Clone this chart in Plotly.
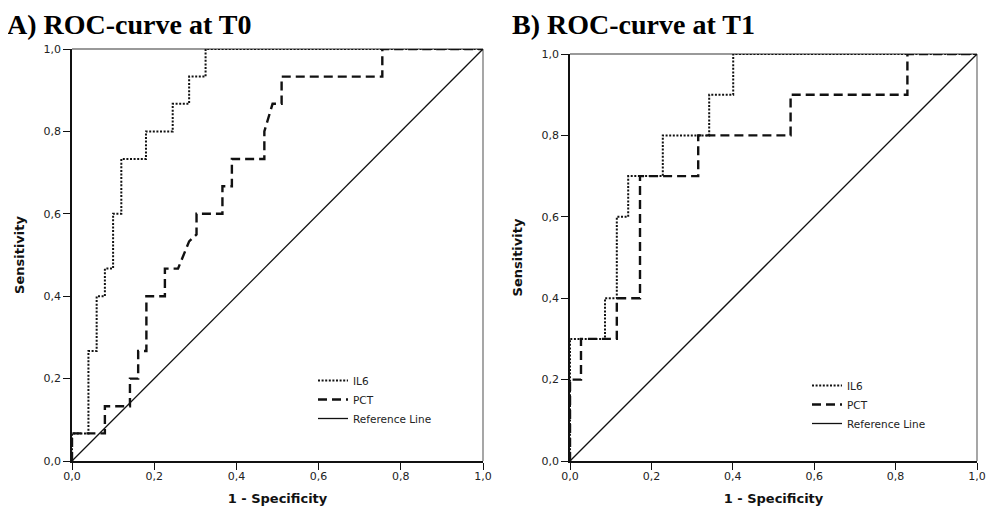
import plotly.graph_objects as go

# ---- data ----
t0_il6_fpr = [0, 0, 0.04, 0.04, 0.06, 0.06, 0.08, 0.08, 0.10, 0.10, 0.12, 0.12, 0.18, 0.18, 0.245, 0.245, 0.285, 0.285, 0.325, 0.325, 1.0]
t0_il6_tpr = [0, 0.067, 0.067, 0.267, 0.267, 0.4, 0.4, 0.467, 0.467, 0.6, 0.6, 0.733, 0.733, 0.8, 0.8, 0.867, 0.867, 0.933, 0.933, 1.0, 1.0]

t0_pct_fpr = [0, 0, 0.08, 0.08, 0.141, 0.141, 0.161, 0.161, 0.181, 0.181, 0.226, 0.226, 0.258, 0.285, 0.303, 0.303, 0.366, 0.366, 0.389, 0.389, 0.468, 0.468, 0.488, 0.51, 0.51, 0.755, 0.755, 1.0]
t0_pct_tpr = [0, 0.067, 0.067, 0.133, 0.133, 0.2, 0.2, 0.267, 0.267, 0.4, 0.4, 0.467, 0.467, 0.533, 0.55, 0.6, 0.6, 0.667, 0.667, 0.733, 0.733, 0.8, 0.867, 0.867, 0.933, 0.933, 1.0, 1.0]

t1_il6_fpr = [0, 0, 0.086, 0.086, 0.115, 0.115, 0.143, 0.143, 0.228, 0.228, 0.342, 0.342, 0.401, 0.401, 1.0]
t1_il6_tpr = [0, 0.3, 0.3, 0.4, 0.4, 0.6, 0.6, 0.7, 0.7, 0.8, 0.8, 0.9, 0.9, 1.0, 1.0]

t1_pct_fpr = [0, 0, 0.027, 0.027, 0.115, 0.115, 0.172, 0.172, 0.315, 0.315, 0.542, 0.542, 0.829, 0.829, 1.0]
t1_pct_tpr = [0, 0.2, 0.2, 0.3, 0.3, 0.4, 0.4, 0.7, 0.7, 0.8, 0.8, 0.9, 0.9, 1.0, 1.0]

ref_x = [0, 1]
ref_y = [0, 1]

tick_vals = [0, 0.2, 0.4, 0.6, 0.8, 1.0]
tick_text = ["0,0", "0,2", "0,4", "0,6", "0,8", "1,0"]
series_names = ["IL6", "PCT", "Reference Line"]
panel_titles = ["A) ROC-curve at T0", "B) ROC-curve at T1"]

# The page body has an 8px margin, so the figure is slightly smaller than the window
OFF = 8
W, H = 998 - OFF, 515 - OFF
TICK_FONT = dict(family="DejaVu Sans", size=11, color="#222")
TITLE_FONT = dict(family="DejaVu Sans", size=13, color="#111")
LEGEND_FONT = dict(family="DejaVu Sans", size=10.5, color="#222")

dot_style = dict(color="#111", width=2, dash="2px,1.6px")
dash_style = dict(color="#111", width=2.4, dash="9px,5px")
ref_style = dict(color="#111", width=1.3)

fig = go.Figure()

panels = [
    ("x", "y", "legend", t0_il6_fpr, t0_il6_tpr, t0_pct_fpr, t0_pct_tpr),
    ("x2", "y2", "legend2", t1_il6_fpr, t1_il6_tpr, t1_pct_fpr, t1_pct_tpr),
]
for xa, ya, lg, ix, iy, px, py in panels:
    fig.add_trace(go.Scatter(x=ix, y=iy, mode="lines", name=series_names[0], line=dot_style,
                             xaxis=xa, yaxis=ya, legend=lg, cliponaxis=False))
    fig.add_trace(go.Scatter(x=px, y=py, mode="lines", name=series_names[1], line=dash_style,
                             xaxis=xa, yaxis=ya, legend=lg, cliponaxis=False))
    fig.add_trace(go.Scatter(x=ref_x, y=ref_y, mode="lines", name=series_names[2], line=ref_style,
                             xaxis=xa, yaxis=ya, legend=lg, cliponaxis=False))

def px2x(p):
    return (p - OFF) / W

def px2y(p):
    return 1 - (p - OFF) / H

dom_x1 = [px2x(72), px2x(483)]
dom_y1 = [px2y(461), px2y(49)]
dom_x2 = [px2x(570), px2x(977)]
dom_y2 = [px2y(461), px2y(54)]

axis_common = dict(
    range=[0, 1], tickvals=tick_vals, ticktext=tick_text, showgrid=False, zeroline=False,
    showline=True, linecolor="#111", linewidth=1.5, ticks="outside", ticklen=7,
    tickwidth=1.3, tickcolor="#111", tickfont=TICK_FONT, fixedrange=True, automargin=False,
)
xtitle = dict(text="<b>1 - Specificity</b>", font=TITLE_FONT, standoff=12)
ytitle = dict(text="<b>Sensitivity</b>", font=TITLE_FONT, standoff=16)

fig.update_layout(
    template="none",
    width=W, height=H,
    margin=dict(l=0, r=0, t=0, b=0, autoexpand=False),
    paper_bgcolor="white", plot_bgcolor="white",
    xaxis=dict(domain=dom_x1, anchor="y", title=xtitle, ticklabelstandoff=-3, **axis_common),
    yaxis=dict(domain=dom_y1, anchor="x", title=ytitle, **axis_common),
    xaxis2=dict(domain=dom_x2, anchor="y2", title=xtitle, ticklabelstandoff=-3, **axis_common),
    yaxis2=dict(domain=dom_y2, anchor="x2", title=ytitle, **axis_common),
    legend=dict(x=px2x(313), y=px2y(366), xanchor="left", yanchor="top",
                font=LEGEND_FONT, bgcolor="rgba(0,0,0,0)", tracegroupgap=0, itemwidth=30),
    legend2=dict(x=px2x(807), y=px2y(371), xanchor="left", yanchor="top",
                 font=LEGEND_FONT, bgcolor="rgba(0,0,0,0)", tracegroupgap=0, itemwidth=30),
    showlegend=True,
)

# Frame lines on top and right of each plot area
for xr, yr in [("x domain", "y domain"), ("x2 domain", "y2 domain")]:
    fig.add_shape(type="line", xref=xr, yref=yr, x0=0, x1=1, y0=1, y1=1,
                  line=dict(color="#777", width=1.3), layer="below")
    fig.add_shape(type="line", xref=xr, yref=yr, x0=1, x1=1, y0=0, y1=1,
                  line=dict(color="#777", width=1.3), layer="below")

# Panel titles
TITLE_STYLE = dict(family="Liberation Serif", size=28, color="#000")
fig.add_annotation(text="<b>" + panel_titles[0] + "</b>", xref="paper", yref="paper",
                   x=px2x(6), y=1, xanchor="left", yanchor="top", showarrow=False,
                   borderpad=0, font=TITLE_STYLE)
fig.add_annotation(text="<b>" + panel_titles[1] + "</b>", xref="paper", yref="paper",
                   x=px2x(511), y=1, xanchor="left", yanchor="top", showarrow=False,
                   borderpad=0, font=TITLE_STYLE)

fig.write_html("out.html")
